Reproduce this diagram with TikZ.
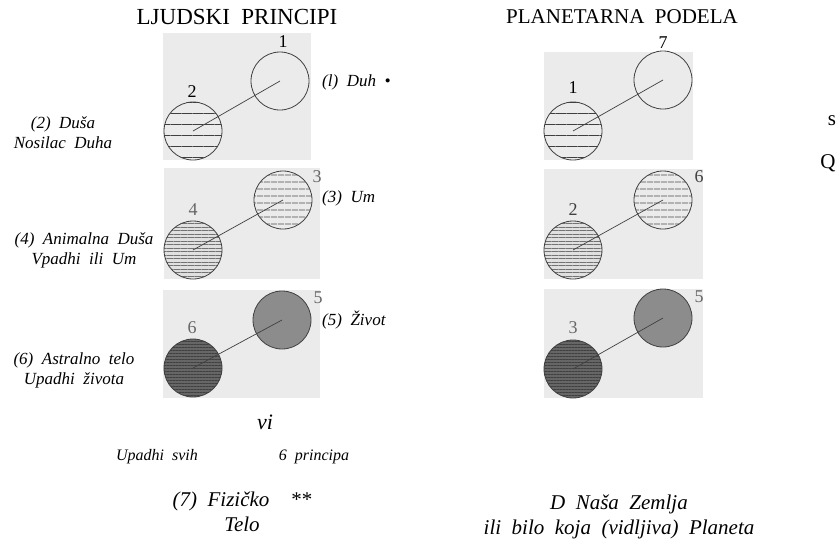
\documentclass[tikz,border=0pt]{standalone}
\usepackage{fontspec}
\setmainfont{Liberation Serif}[WordSpace=2]
\usetikzlibrary{patterns.meta}

\begin{document}
\begin{tikzpicture}[x=1pt, y=-1pt, panel/.style={fill=black!8}, link/.style={draw=black!75, line width=0.7pt},
  disc/.style={circle, draw=black!75, line width=0.8pt, minimum size=58pt, inner sep=0pt},
  sparse/.style={disc, pattern={Lines[angle=0, distance=11pt, line width=0.7pt]}, pattern color=black!75},
  medium/.style={disc, pattern={Lines[angle=0, distance=6.5pt, line width=0.7pt]}, pattern color=black!70},
  dense/.style={disc, preaction={fill=black!12}, pattern={Lines[angle=0, distance=3.5pt, line width=0.6pt]}, pattern color=black!55},
  greydisc/.style={disc, fill=black!45},
  darkdisc/.style={disc, preaction={fill=black!60}, pattern={Lines[angle=0, distance=3pt, line width=0.6pt]}, pattern color=black!75},
  num/.style={font=\fontsize{18}{20}\selectfont, inner sep=0pt},
  lbl/.style={font=\fontsize{17}{20}\selectfont\itshape, align=center, inner sep=0pt},
  big/.style={lbl, font=\fontsize{21}{25}\selectfont\itshape},
  small/.style={lbl, font=\fontsize{16}{18}\selectfont\itshape},
  title/.style={inner sep=0pt}]
\useasboundingbox (0,0) rectangle (838,542);
\node[title, font=\fontsize{23}{25}\selectfont] (ljudski) at (237,17) {LJUDSKI PRINCIPI};
\node[title, font=\fontsize{21}{25}\selectfont] (planet) at (622,17) {PLANETARNA PODELA};
% ljudski principi
\fill[panel] (163,33) rectangle (311,160);
\fill[panel] (164,168) rectangle (320,279);
\fill[panel] (163,290) rectangle (320,398);
\node[disc] (hA) at (280,81) {};
\node[sparse] (hB) at (193,131) {};
\node[medium] (hC) at (283,200) {};
\node[dense] (hD) at (193,250) {};
\node[greydisc] (hE) at (282,320) {};
\node[darkdisc] (hF) at (193,368) {};
\draw[link] (hB.center) -- (hA.center);
\draw[link] (hD.center) -- (hC.center);
\draw[link] (hF.center) -- (hE.center);
\node[num] (nA) at (283,42) {1};
\node[num] (nB) at (192,92) {2};
\node[num, text=black!60] (nC) at (317,177) {3};
\node[num, text=black!60] (nD) at (193,210) {4};
\node[num, text=black!60] (nE) at (318,298) {5};
\node[num, text=black!60] (nF) at (192,328) {6};
\node[lbl, anchor=west] (duh) at (322,82) {(l) Duh •};
\node[lbl] (dusa) at (63,133) {(2) Duša\\Nosilac Duha};
\node[lbl, anchor=west] (um) at (322,198) {(3) Um};
\node[lbl] (animal) at (84,250) {(4) Animalna Duša\\Vpadhi ili Um};
\node[lbl, anchor=west] (zivot) at (322,320) {(5) Život};
\node[lbl] (astral) at (74,370) {(6) Astralno telo\\Upadhi života};
\node[big, font=\fontsize{22}{25}\selectfont\itshape] (vi) at (265,422) {vi};
\node[small] (svih) at (157,457) {Upadhi svih};
\node[small] (princ) at (314,457) {6 principa};
\node[big] (telo) at (242,512) {(7) Fizičko \ **\\Telo};
% planetarna podela
\fill[panel] (544,52) rectangle (693,160);
\fill[panel] (544,169) rectangle (703,279);
\fill[panel] (544,289) rectangle (703,398);
\node[disc] (pA) at (663,80) {};
\node[sparse] (pB) at (573,131) {};
\node[medium] (pC) at (663,200) {};
\node[dense] (pD) at (573,250) {};
\node[greydisc] (pE) at (663,318) {};
\node[darkdisc] (pF) at (573,369) {};
\draw[link] (pB.center) -- (pA.center);
\draw[link] (pD.center) -- (pC.center);
\draw[link] (pF.center) -- (pE.center);
\node[num] (mA) at (663,43) {7};
\node[num] (mB) at (573,88) {1};
\node[num, text=black!75] (mC) at (699,177) {6};
\node[num, text=black!75] (mD) at (573,210) {2};
\node[num, text=black!60] (mE) at (699,297) {5};
\node[num, text=black!60] (mF) at (573,328) {3};
\node[big] (zemlja) at (619,517) {D Naša Zemlja\\ili bilo koja (vidljiva) Planeta};
\node[num, font=\fontsize{21}{24}\selectfont] (es) at (832,121) {s};
\node[num, font=\fontsize{21}{24}\selectfont] (qu) at (828,163) {Q};
\end{tikzpicture}
\end{document}
